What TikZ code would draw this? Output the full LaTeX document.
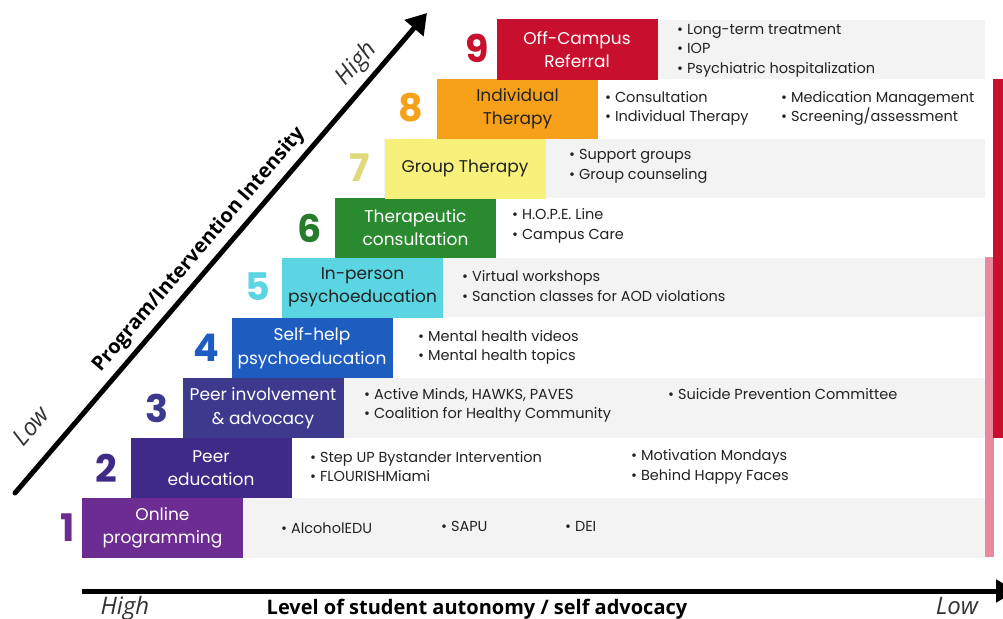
\documentclass[tikz,border=0pt]{standalone}
\usepackage{fontspec}
\setmainfont{Poppins}
\newfontfamily\axisfont{Open Sans}
\usetikzlibrary{arrows.meta}
\definecolor{cA}{HTML}{6D2C91}
\definecolor{cB}{HTML}{3F2A88}
\definecolor{cC}{HTML}{3D3A8E}
\definecolor{cD}{HTML}{1E5CC0}
\definecolor{cE}{HTML}{5CD5E3}
\definecolor{cF}{HTML}{2A8A2F}
\definecolor{cG}{HTML}{F7F17B}
\definecolor{cH}{HTML}{F7A11A}
\definecolor{cI}{HTML}{C8102E}
\definecolor{bandgray}{HTML}{F3F3F3}
\definecolor{pinkbar}{HTML}{E88A9C}
\definecolor{txt}{HTML}{222222}
\begin{document}
\begin{tikzpicture}[x=1pt,y=-1pt,
  stepbox/.style={minimum width=161pt, minimum height=60pt, inner sep=0pt, align=center,
     font=\fontsize{17}{23.5}\selectfont},
  numlabel/.style={inner sep=0pt, font=\fontsize{38}{38}\selectfont\bfseries},
  items/.style={anchor=west, inner sep=0pt, align=left, text=txt,
     font=\fontsize{14.5}{19.5}\selectfont},
  band/.style={fill=bandgray, draw=none},
  axisline/.style={line width=5pt, black},
  endlabel/.style={inner sep=0pt, text=black!80, font=\axisfont\itshape\fontsize{24}{24}\selectfont},
  axistitle/.style={inner sep=0pt, text=black, font=\axisfont\bfseries\fontsize{20}{20}\selectfont}
]
\useasboundingbox (0,0) rectangle (1003,618);
\fill[white] (0,0) rectangle (1003,618);
% bands
\fill[band] (497,20) rectangle (985,79);
\fill[band] (384,139) rectangle (985,198);
\fill[band] (282,258) rectangle (985,317);
\fill[band] (183,378) rectangle (985,438);
\fill[band] (82,498) rectangle (985,558);
% right bars
\fill[pinkbar] (985,257) rectangle (994,557);
\fill[cI] (993,79) rectangle (1003,438);
% boxes
\node[stepbox, fill=cA, text=white] (b1) at (162.5,528) {Online\\programming};
\node[stepbox, fill=cB, text=white] (b2) at (211,468) {Peer\\education};
\node[stepbox, fill=cC, text=white] (b3) at (263,408) {Peer involvement\\\& advocacy};
\node[stepbox, fill=cD, text=white] (b4) at (312,348) {Self-help\\psychoeducation};
\node[stepbox, fill=cE, text=txt] (b5) at (362.5,287.5) {In-person\\psychoeducation};
\node[stepbox, fill=cF, text=white] (b6) at (415.5,227.5) {Therapeutic\\consultation};
\node[stepbox, fill=cG, text=txt] (b7) at (465,168.5) {Group Therapy};
\node[stepbox, fill=cH, text=txt] (b8) at (517.5,108.5) {Individual\\Therapy};
\node[stepbox, fill=cI, text=white] (b9) at (577,49.5) {Off-Campus\\Referral};
% numbers
\node[numlabel, text=cA] (n1) at (68,528) {1};
\node[numlabel, text=cB] (n2) at (106,468) {2};
\node[numlabel, text=cC] (n3) at (157,408) {3};
\node[numlabel, text=cD] (n4) at (206,348) {4};
\node[numlabel, text=cE] (n5) at (258,287) {5};
\node[numlabel, text=cF!90!black] (n6) at (310,228) {6};
\node[numlabel, text=cG!80!gray] (n7) at (360,168) {7};
\node[numlabel, text=cH] (n8) at (411,108) {8};
\node[numlabel, text=cI] (n9) at (477,48) {9};
% items
\node[items] (i9) at (677,50.5) {• Long-term treatment\\• IOP\\• Psychiatric hospitalization};
\node[items] (i8a) at (605,108.5) {• Consultation\\• Individual Therapy};
\node[items] (i8b) at (781,108.5) {• Medication Management\\• Screening/assessment};
\node[items] (i7) at (569,166.5) {• Support groups\\• Group counseling};
\node[items] (i6) at (512,226) {• H.O.P.E. Line\\• Campus Care};
\node[items] (i5) at (462,286) {• Virtual workshops\\• Sanction classes for AOD violations};
\node[items] (i4) at (418,347.5) {• Mental health videos\\• Mental health topics};
\node[items] (i3a) at (364,405.5) {• Active Minds, HAWKS, PAVES\\• Coalition for Healthy Community};
\node[items] (i3b) at (668,394) {• Suicide Prevention Committee};
\node[items] (i2a) at (310,466.5) {• Step UP Bystander Intervention\\• FLOURISHMiami};
\node[items] (i2b) at (631,467) {• Motivation Mondays\\• Behind Happy Faces};
\node[items] (i1a) at (281,528) {• AlcoholEDU};
\node[items] (i1b) at (441,526) {• SAPU};
\node[items] (i1c) at (565,526) {• DEI};
% axes
\coordinate (hs) at (82,591);
\coordinate (he) at (1016,591);
\draw[axisline, -{Triangle[length=20pt,width=22pt]}] (hs) -- (he);
\coordinate (ds) at (15,493);
\coordinate (de) at (427,13);
\draw[axisline, line cap=round, -{Triangle[length=20pt,width=24pt]}] (ds) -- (de);
\node[endlabel, anchor=base] (hh) at (125,614) {High};
\node[endlabel, anchor=base] (hl) at (957,614) {Low};
\node[axistitle, anchor=base] (ht) at (477,614) {Level of student autonomy / self advocacy};
\node[endlabel, rotate=49.4] (dl) at (31,426) {Low};
\node[endlabel, rotate=49.4] (dh) at (357,64) {High};
\node[axistitle, rotate=49.4] (dt) at (199,250) {Program/Intervention Intensity};
\end{tikzpicture}
\end{document}
